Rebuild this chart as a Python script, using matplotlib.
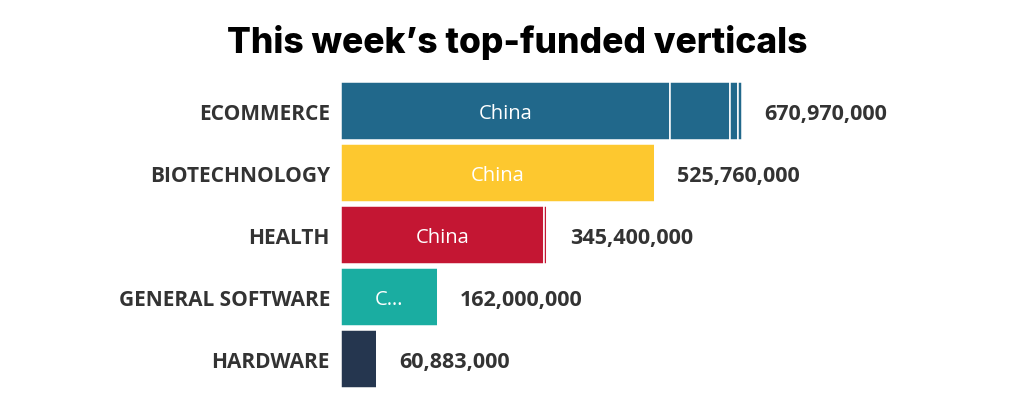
import numpy as np
import matplotlib
matplotlib.use("Agg")
import matplotlib.pyplot as plt

categories = ["ECOMMERCE", "BIOTECHNOLOGY", "HEALTH", "GENERAL SOFTWARE", "HARDWARE"]
totals = [670970000, 525760000, 345400000, 162000000, 60883000]
# country segments inside each bar (largest first)
seg_1 = [550000000, 525760000, 339000000, 161500000, 60883000]
seg_2 = [101000000, 0, 6400000, 500000, 0]
seg_3 = [13000000, 0, 0, 0, 0]
seg_4 = [6970000, 0, 0, 0, 0]
seg_1_labels = ["China", "China", "China", "C\u2026", ""]
colors = ["#21688b", "#fdc82f", "#c41633", "#1aada1", "#25364f"]

fig = plt.figure(figsize=(10.33, 4.10), dpi=100)
ax = fig.add_axes([341 / 1033, 19 / 410, 600 / 1033, 310 / 410])

y = np.arange(len(categories))
left = np.zeros(len(categories))
for seg in [seg_1, seg_2, seg_3, seg_4]:
    vals = np.array(seg, dtype=float)
    ax.barh(y, vals, left=left, height=0.94, color=colors,
            edgecolor="white", linewidth=1.1)
    left += vals

for i, lab in enumerate(seg_1_labels):
    if lab:
        ax.text(seg_1[i] / 2, y[i], lab, ha="center", va="center_baseline",
                color="white", fontsize=14.5, family="Open Sans")

for i, t in enumerate(totals):
    ax.annotate(f"{t:,}", (t, y[i]), xytext=(16, 0), textcoords="offset points",
                ha="left", va="center_baseline", fontsize=15.5, fontweight="bold",
                color="#333333", family="Open Sans")

ax.set_xlim(0, 600 / 0.5977 * 1e6)
ax.set_ylim(len(categories) - 0.5, -0.5)
ax.set_yticks(y)
ax.set_yticklabels(categories, fontsize=15, fontweight="bold", color="#333333",
                   family="Open Sans")
ax.tick_params(axis="y", length=0, pad=8)
ax.set_xticks([])
for s in ax.spines.values():
    s.set_visible(False)

fig.text(517 / 1033, 1 - 43 / 410, "This week\u2019s top-funded verticals",
         ha="center", va="center", fontsize=25.5, fontweight="heavy",
         family="Inter", color="black")

fig.savefig("out.png", dpi=100, facecolor="white")
